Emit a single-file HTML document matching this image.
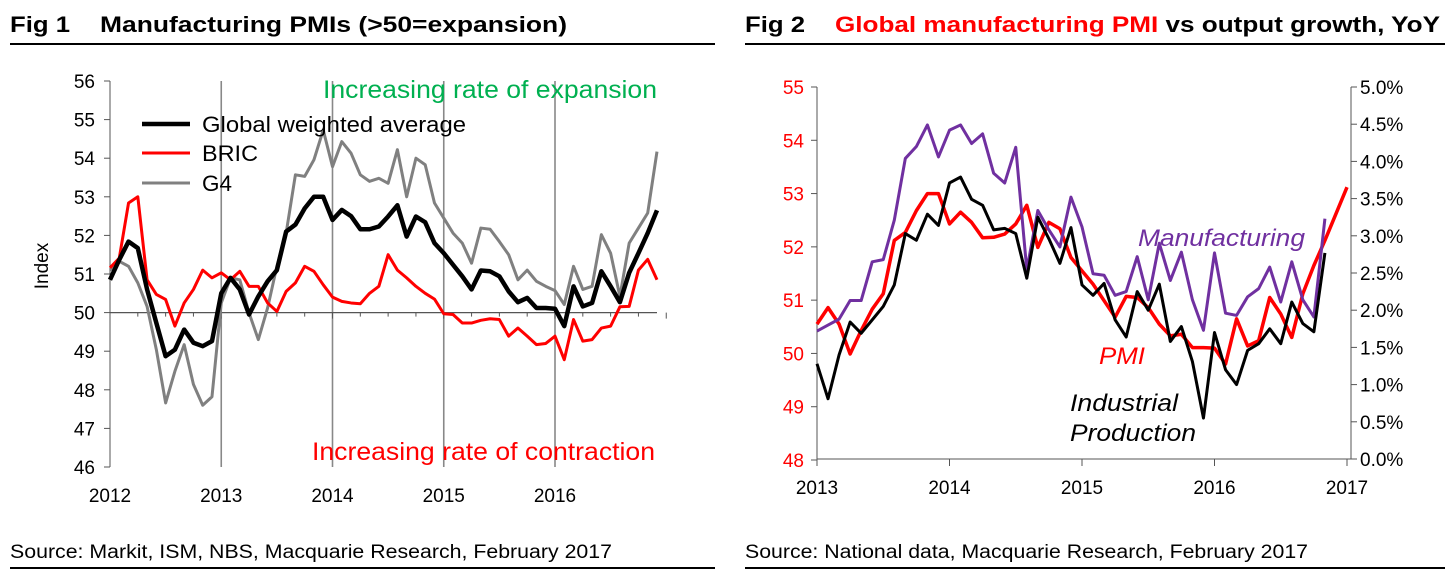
<!DOCTYPE html>
<html><head><meta charset="utf-8"><style>
body{margin:0;background:#fff;}
svg{display:block;font-family:"Liberation Sans",Arial,sans-serif;}
</style></head><body>
<svg id="c" width="1454" height="584" viewBox="0 0 1454 584">
<text x="10" y="32" font-size="22" font-weight="bold" textLength="60" lengthAdjust="spacingAndGlyphs">Fig 1</text>
<text x="100" y="32" font-size="22" font-weight="bold" textLength="467" lengthAdjust="spacingAndGlyphs">Manufacturing PMIs (&gt;50=expansion)</text>
<line x1="10" y1="44" x2="715" y2="44" stroke="#000" stroke-width="2"/>
<text x="745" y="32" font-size="22" font-weight="bold" textLength="60" lengthAdjust="spacingAndGlyphs">Fig 2</text>
<text x="835" y="32" font-size="22" font-weight="bold" textLength="605" lengthAdjust="spacingAndGlyphs"><tspan fill="#ff0000">Global manufacturing PMI</tspan> vs output growth, YoY</text>
<line x1="745" y1="44" x2="1445" y2="44" stroke="#000" stroke-width="2"/>
<text x="10" y="558" font-size="19" textLength="602" lengthAdjust="spacingAndGlyphs">Source: Markit, ISM, NBS, Macquarie Research, February 2017</text>
<line x1="10" y1="568" x2="715" y2="568" stroke="#000" stroke-width="2"/>
<text x="745" y="558" font-size="19" textLength="563" lengthAdjust="spacingAndGlyphs">Source: National data, Macquarie Research, February 2017</text>
<line x1="745" y1="568" x2="1445" y2="568" stroke="#000" stroke-width="2"/>
<g id="g1"></g><g id="g2"></g>
</svg>
<script>
// Fig 1 data: monthly Jan 2012 - Dec 2016
const f1Years = ["2012","2013","2014","2015","2016"];
const f1YTicks = [46,47,48,49,50,51,52,53,54,55,56];
const globalAvg = [50.85,51.37,51.84,51.67,50.6,49.73,48.87,49.04,49.56,49.22,49.13,49.26,50.5,50.9,50.6,49.95,50.42,50.81,51.1,52.1,52.28,52.7,53.0,53.0,52.4,52.66,52.5,52.16,52.16,52.23,52.49,52.78,51.97,52.49,52.34,51.8,51.54,51.24,50.94,50.6,51.09,51.07,50.94,50.55,50.27,50.38,50.12,50.12,50.1,49.65,50.68,50.16,50.25,51.07,50.68,50.27,51.03,51.54,52.06,52.65];
const bric = [51.16,51.41,52.84,53.0,50.85,50.47,50.34,49.65,50.25,50.6,51.1,50.9,51.03,50.85,51.07,50.68,50.68,50.25,50.03,50.55,50.77,51.2,51.07,50.72,50.4,50.29,50.25,50.23,50.5,50.68,51.5,51.1,50.9,50.68,50.5,50.35,49.97,49.95,49.73,49.73,49.8,49.84,49.82,49.39,49.6,49.39,49.17,49.2,49.39,48.78,49.82,49.26,49.3,49.6,49.65,50.15,50.16,51.1,51.38,50.85];
const g4 = [51.1,51.33,51.2,50.77,50.16,49.04,47.66,48.48,49.17,48.14,47.6,47.82,50.25,50.9,50.85,49.99,49.3,50.12,51.2,52.06,53.57,53.53,53.96,54.73,53.78,54.43,54.13,53.57,53.4,53.48,53.35,54.22,53.0,54.0,53.83,52.84,52.45,52.06,51.8,51.28,52.19,52.16,51.84,51.5,50.85,51.1,50.81,50.68,50.57,50.21,51.2,50.6,50.68,52.02,51.54,50.42,51.8,52.19,52.58,54.17];
// Fig 2 data: monthly from Jan 2013
const f2Years = ["2013","2014","2015","2016","2017"];
const f2LTicks = [48,49,50,51,52,53,54,55];
const f2RTicks = ["0.0%","0.5%","1.0%","1.5%","2.0%","2.5%","3.0%","3.5%","4.0%","4.5%","5.0%"];
const pmi = [50.55,50.86,50.55,49.99,50.43,50.83,51.12,52.12,52.27,52.68,53.0,53.0,52.43,52.65,52.46,52.17,52.18,52.24,52.43,52.78,51.99,52.46,52.34,51.8,51.55,51.3,50.99,50.68,51.07,51.05,50.86,50.55,50.33,50.36,50.11,50.11,50.1,49.8,50.65,50.14,50.24,51.05,50.74,50.3,51.12,51.65,52.12,52.62,53.12];
const manuf = [1.72,1.80,1.88,2.13,2.13,2.65,2.68,3.21,4.04,4.20,4.49,4.06,4.42,4.49,4.24,4.37,3.84,3.71,4.19,2.54,3.34,3.08,2.85,3.52,3.12,2.49,2.47,2.20,2.25,2.72,2.14,2.90,2.40,2.78,2.14,1.73,2.77,1.96,1.93,2.18,2.29,2.58,2.11,2.65,2.14,1.91,3.23];
const indProd = [1.28,0.81,1.40,1.84,1.69,1.87,2.05,2.34,3.03,2.94,3.29,3.14,3.71,3.79,3.49,3.41,3.08,3.10,3.03,2.43,3.25,2.96,2.63,3.11,2.34,2.20,2.36,1.87,1.64,2.25,2.00,2.35,1.58,1.78,1.31,0.55,1.70,1.20,1.00,1.46,1.55,1.75,1.55,2.11,1.82,1.71,2.77];

const NS="http://www.w3.org/2000/svg";
function mk(parent,tag,attrs,txt){const e=document.createElementNS(NS,tag);for(const k in attrs)e.setAttribute(k,attrs[k]);if(txt!==undefined)e.textContent=txt;parent.appendChild(e);return e;}

// ---- Fig 1 ----
const g1=document.getElementById('g1');
const x1=m=>110+m*(445/48);
const y1=v=>81+(56-v)*(386/10);
f1YTicks.forEach(v=>{
  const t=mk(g1,'line',{x1:104,x2:110,y1:y1(v),y2:y1(v),stroke:'#555'});
  
  
  const l=mk(g1,'text',{x:95,y:y1(v)+7,'font-size':19,'text-anchor':'end'},String(v));
  
  
});
mk(g1,'line',{x1:110,x2:110,y1:81,y2:467,stroke:'#555'});
f1Years.forEach((yr,i)=>{
  const xx=x1(i*12);
  if(i>0){const gl=mk(g1,'line',{x1:xx,x2:xx,y1:81,y2:467,stroke:'#888','stroke-width':1.6});
  
  }
  const l=mk(g1,'text',{x:xx,y:502,'font-size':19,'text-anchor':'middle'},yr);
  
  
});
for(let k=0;k<=20;k++){mk(g1,'line',{x1:x1(k*3),x2:x1(k*3),y1:y1(50),y2:y1(50)+(k%4==0?6:4),stroke:'#555'});}
const base=mk(g1,'line',{x1:110,x2:657,y1:y1(50),y2:y1(50),stroke:'#555','stroke-width':1.2});


const yt=mk(g1,'text',{x:0,y:0,'font-size':19,'text-anchor':'middle',transform:'translate(48,266) rotate(-90)'},'Index');


function series(g,data,xf,yf,color,w,name){
  const p=mk(g,'polyline',{points:data.map((v,i)=>xf(i)+','+yf(v)).join(' '),fill:'none',stroke:color,'stroke-width':w,'stroke-linejoin':'round'});
  
  
}
series(g1,g4,x1,y1,'#808080',3,'g4-line');
series(g1,bric,x1,y1,'#ff0000',3,'bric-line');
series(g1,globalAvg,x1,y1,'#000000',4.5,'global-average-line');
[['Global weighted average','#000',4.5,124,264],['BRIC','#ff0000',3,153,56],['G4','#808080',3,183,30]].forEach(e=>{
  const ln=mk(g1,'line',{x1:142,x2:190,y1:e[3],y2:e[3],stroke:e[1],'stroke-width':e[2]});
  
  
  const t=mk(g1,'text',{x:202,y:e[3]+8,'font-size':22,textLength:e[4],lengthAdjust:'spacingAndGlyphs'},e[0]);
  
  
});
const a1=mk(g1,'text',{x:323,y:98,'font-size':25,fill:'#00b050',textLength:334,lengthAdjust:'spacingAndGlyphs'},'Increasing rate of expansion');


const a2=mk(g1,'text',{x:312,y:460,'font-size':25,fill:'#ff0000',textLength:343,lengthAdjust:'spacingAndGlyphs'},'Increasing rate of contraction');



// ---- Fig 2 ----
const g2=document.getElementById('g2');
const x2=m=>817+m*(530/48);
const yL=v=>87+(55-v)*(373/7);
const yR=p=>459-p*(372/5);
mk(g2,'line',{x1:817,x2:817,y1:87,y2:459,stroke:'#555'});
mk(g2,'line',{x1:1351,x2:1351,y1:87,y2:459,stroke:'#555'});
mk(g2,'line',{x1:817,x2:1351,y1:459,y2:459,stroke:'#555'});
f2LTicks.forEach(v=>{
  mk(g2,'line',{x1:811,x2:817,y1:yL(v),y2:yL(v),stroke:'#555'});
  const l=mk(g2,'text',{x:804,y:yL(v)+7,'font-size':19,'text-anchor':'end',fill:'#ff0000'},String(v));
  
  
});
f2RTicks.forEach((s,i)=>{
  const p=i*0.5;
  mk(g2,'line',{x1:1351,x2:1357,y1:yR(p),y2:yR(p),stroke:'#555'});
  const l=mk(g2,'text',{x:1360,y:yR(p)+7,'font-size':19},s);
  
  
});
f2Years.forEach((yr,i)=>{
  const xx=x2(i*12);
  mk(g2,'line',{x1:xx,x2:xx,y1:459,y2:466,stroke:'#555'});
  const l=mk(g2,'text',{x:xx,y:494,'font-size':19,'text-anchor':'middle'},yr);
  
  
});
series(g2,pmi,x2,yL,'#ff0000',3.5,'pmi-line');
series(g2,manuf,x2,yR,'#7030a0',3,'manufacturing-line');
series(g2,indProd,x2,yR,'#000000',3,'industrial-production-line');
[['Manufacturing',1138,246,'#7030a0',167],['PMI',1099,364,'#ff0000',46],['Industrial',1070,411,'#000',108],['Production',1070,441,'#000',126]].forEach(e=>{
  const t=mk(g2,'text',{x:e[1],y:e[2],'font-size':24,'font-style':'italic',fill:e[3],textLength:e[4],lengthAdjust:'spacingAndGlyphs'},e[0]);
  
  
});
</script>
</body></html>
